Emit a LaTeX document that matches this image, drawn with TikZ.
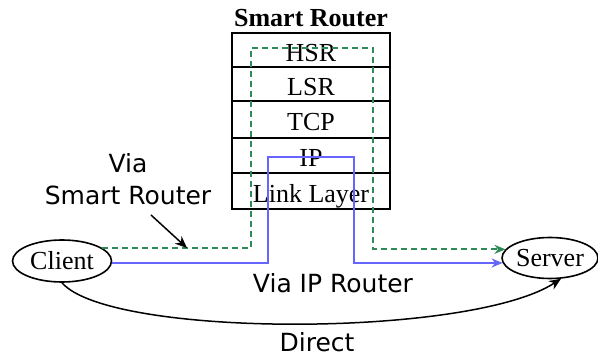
\documentclass[tikz,border=0pt]{standalone}
\usepackage{fontspec}
\setmainfont{Liberation Serif}
\newfontfamily\labelsans{DejaVu Sans}
\usetikzlibrary{arrows.meta,shapes.geometric}
\definecolor{pathblue}{RGB}{102,102,255}
\definecolor{pathgreen}{RGB}{46,139,87}
\begin{document}
\begin{tikzpicture}[x=1pt,y=-1pt,
  serif/.style={font=\fontsize{26}{28}\selectfont},
  sanslabel/.style={font=\labelsans\fontsize{25}{32}\selectfont, align=center},
  layer/.style={draw, line width=1.8pt, minimum width=158pt, inner sep=0pt, serif, text height=23pt, text depth=0pt},
  host/.style={draw, ellipse, line width=1.6pt, inner sep=0pt, serif},
  ippath/.style={draw=pathblue, line width=1.8pt, -{Stealth[length=11pt,width=9pt]}},
  srpath/.style={draw=pathgreen, line width=1.7pt, dash pattern=on 6pt off 4pt, -{Stealth[length=11pt,width=9pt]}},
  pointer/.style={draw=black, line width=1.5pt, -{Stealth[length=12pt,width=10pt]}}
]
\useasboundingbox (0,0) rectangle (598,358);

% title
\node[serif, font=\fontsize{26}{28}\selectfont\bfseries] (title) at (311,18) {Smart Router};

% protocol stack
\node[layer, minimum height=34pt] (hsr)  at (311,50)  {HSR};
\node[layer, minimum height=34pt] (lsr)  at (311,84)  {LSR};
\node[layer, minimum height=37pt] (tcp)  at (311,119.5) {TCP};
\node[layer, minimum height=35pt] (ip)   at (311,155.5) {IP};
\node[layer, minimum height=36pt] (link) at (311,191) {Link Layer};

% hosts
\node[host, minimum width=99pt, minimum height=42pt] (client) at (62,261) {Client};
\node[host, minimum width=95pt, minimum height=41pt] (server) at (550,258) {Server};

% path corners
\coordinate (g1) at (251,48);
\coordinate (g2) at (373,48);
\coordinate (b1) at (268,157);
\coordinate (b2) at (354,157);

% via smart router (green dashed)
\draw[srpath] (client.18) -| (g1) -| (g2) |- (server.169);
% via IP router (blue)
\draw[ippath] (client.-2) -| (b1) -| (b2) |- (server.186);
% direct
\draw[pointer] (client.south) .. controls (110,338) and (470,338) .. (server.-62);

% labels
\node[sanslabel] (vsr) at (128,179) {Via\\Smart Router};
\node[sanslabel] (vip) at (333,283) {Via IP Router};
\node[sanslabel] (direct) at (317,342) {Direct};

\coordinate (a1) at (151,215);
\coordinate (a2) at (187,248);
\draw[pointer] (a1) -- (a2);
\end{tikzpicture}
\end{document}
